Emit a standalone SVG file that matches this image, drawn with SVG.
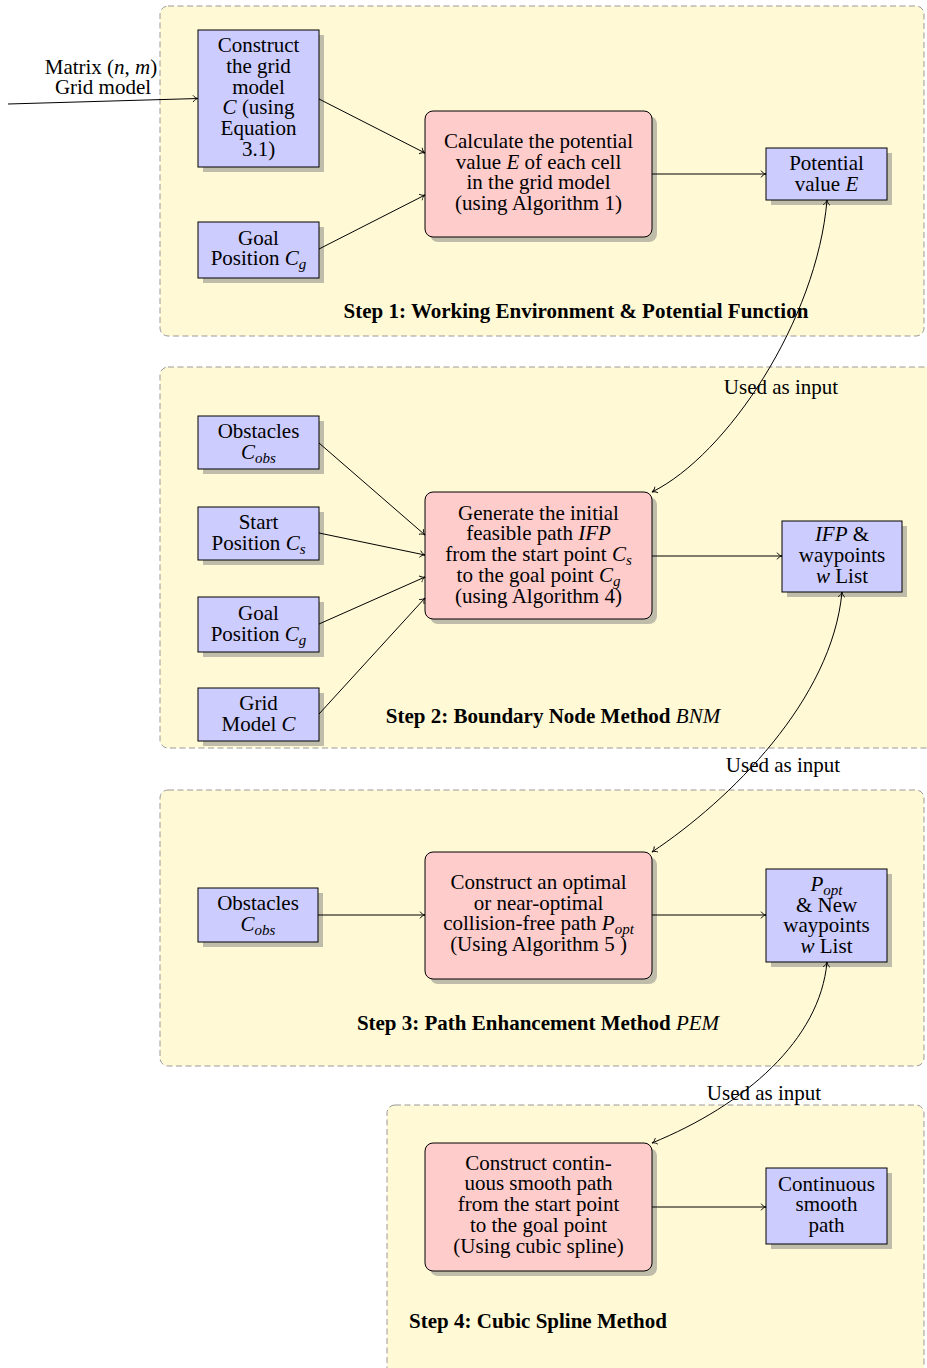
<svg xmlns="http://www.w3.org/2000/svg" width="927" height="1368" viewBox="0 0 927 1368">
<style>
text{font-family:"Liberation Serif","Times New Roman",serif;font-size:21px;fill:#000}
.c{text-anchor:middle}
.i{font-style:italic}
.s{font-size:15px;font-style:italic}
.b{font-weight:bold}
.panel{fill:#FFF9D5;stroke:#999;stroke-width:1;stroke-dasharray:6 3.5}
.blue{fill:#CCCCFF;stroke:#000;stroke-width:1}
.red{fill:#FFCCCC;stroke:#000;stroke-width:1}
.sh{fill:#808080;opacity:0.5}
.ln{fill:none;stroke:#000;stroke-width:1;marker-end:url(#arr)}
.cv{fill:none;stroke:#000;stroke-width:1;marker-end:url(#arr);marker-start:url(#arr)}
</style>
<defs>
<marker id="arr" markerUnits="userSpaceOnUse" viewBox="-7 -5 8 10" markerWidth="8" markerHeight="10" refX="0" refY="0" orient="auto-start-reverse" overflow="visible">
<path d="M-5,-3.4 C-3.8,-1.4 -1.6,-0.4 0,0 C-1.6,0.4 -3.8,1.4 -5,3.4" fill="none" stroke="#000" stroke-width="0.9"/>
</marker>
</defs>

<g id="panels">
<rect id="step1" class="panel" x="160" y="6" width="764" height="330" rx="8"/>
<rect id="step2" class="panel" x="160" y="367" width="775" height="381" rx="8"/>
<rect id="step3" class="panel" x="160" y="790" width="764" height="276" rx="8"/>
<rect id="step4" class="panel" x="387" y="1105" width="537" height="290" rx="8"/>
</g>

<g id="labels">
<text class="c b" x="576" y="318">Step 1: Working Environment &amp; Potential Function</text>
<text class="c" x="553" y="723"><tspan class="b">Step 2: Boundary Node Method </tspan><tspan class="i">BNM</tspan></text>
<text class="c" x="538" y="1030"><tspan class="b">Step 3: Path Enhancement Method </tspan><tspan class="i">PEM</tspan></text>
<text class="c b" x="538" y="1328">Step 4: Cubic Spline Method</text>
<text class="c" x="101" y="74">Matrix (<tspan class="i">n</tspan>, <tspan class="i">m</tspan>)</text>
<text class="c" x="103" y="94">Grid model</text>
<text class="c" x="781" y="394">Used as input</text>
<text class="c" x="783" y="772">Used as input</text>
<text class="c" x="764" y="1100">Used as input</text>
</g>

<g id="n_grid">
<rect class="sh" x="203" y="35" width="121" height="137"/>
<rect class="blue" x="198" y="30" width="121" height="137"/>
<text class="c" x="258.5" y="52.3">Construct</text>
<text class="c" x="258.5" y="73">the grid</text>
<text class="c" x="258.5" y="93.7">model</text>
<text class="c" x="258.5" y="114.4"><tspan class="i">C</tspan> (using</text>
<text class="c" x="258.5" y="135.1">Equation</text>
<text class="c" x="258.5" y="155.8">3.1)</text>
</g>

<g id="n_goal1">
<rect class="sh" x="203" y="227" width="121" height="56"/>
<rect class="blue" x="198" y="222" width="121" height="56"/>
<text class="c" x="258.5" y="244.5">Goal</text>
<text class="c" x="258.5" y="265.2">Position <tspan class="i">C</tspan><tspan class="s" dy="4">g</tspan></text>
</g>

<g id="n_calc">
<rect class="sh" x="430" y="116" width="227" height="126" rx="8"/>
<rect class="red" x="425" y="111" width="227" height="126" rx="8"/>
<text class="c" x="538.5" y="148">Calculate the potential</text>
<text class="c" x="538.5" y="168.7">value <tspan class="i">E</tspan> of each cell</text>
<text class="c" x="538.5" y="189.4">in the grid model</text>
<text class="c" x="538.5" y="210.1">(using Algorithm 1)</text>
</g>

<g id="n_pot">
<rect class="sh" x="771" y="153" width="121" height="52"/>
<rect class="blue" x="766" y="148" width="121" height="52"/>
<text class="c" x="826.5" y="170">Potential</text>
<text class="c" x="826.5" y="190.7">value <tspan class="i">E</tspan></text>
</g>

<g id="n_obs2">
<rect class="sh" x="203" y="421" width="121" height="53"/>
<rect class="blue" x="198" y="416" width="121" height="53"/>
<text class="c" x="258.5" y="437.5">Obstacles</text>
<text class="c" x="258.5" y="458.5"><tspan class="i">C</tspan><tspan class="s" dy="4">obs</tspan></text>
</g>

<g id="n_start">
<rect class="sh" x="203" y="512" width="121" height="53"/>
<rect class="blue" x="198" y="507" width="121" height="53"/>
<text class="c" x="258.5" y="528.8">Start</text>
<text class="c" x="258.5" y="549.5">Position <tspan class="i">C</tspan><tspan class="s" dy="4">s</tspan></text>
</g>

<g id="n_goal2">
<rect class="sh" x="203" y="602" width="121" height="55"/>
<rect class="blue" x="198" y="597" width="121" height="55"/>
<text class="c" x="258.5" y="619.8">Goal</text>
<text class="c" x="258.5" y="640.5">Position <tspan class="i">C</tspan><tspan class="s" dy="4">g</tspan></text>
</g>

<g id="n_gridm">
<rect class="sh" x="203" y="693" width="121" height="53"/>
<rect class="blue" x="198" y="688" width="121" height="53"/>
<text class="c" x="258.5" y="709.8">Grid</text>
<text class="c" x="258.5" y="730.5">Model <tspan class="i">C</tspan></text>
</g>

<g id="n_gen">
<rect class="sh" x="430" y="497" width="227" height="127" rx="8"/>
<rect class="red" x="425" y="492" width="227" height="127" rx="8"/>
<text class="c" x="538.5" y="519.5">Generate the initial</text>
<text class="c" x="538.5" y="540.3">feasible path <tspan class="i">IFP</tspan></text>
<text class="c" x="538.5" y="561.1">from the start point <tspan class="i">C</tspan><tspan class="s" dy="4">s</tspan></text>
<text class="c" x="538.5" y="581.9">to the goal point <tspan class="i">C</tspan><tspan class="s" dy="4">g</tspan></text>
<text class="c" x="538.5" y="602.7">(using Algorithm 4)</text>
</g>

<g id="n_ifp">
<rect class="sh" x="787" y="526" width="120" height="71"/>
<rect class="blue" x="782" y="521" width="120" height="71"/>
<text class="c" x="842" y="541.3"><tspan class="i">IFP</tspan> &amp;</text>
<text class="c" x="842" y="562">waypoints</text>
<text class="c" x="842" y="582.7"><tspan class="i">w</tspan> List</text>
</g>

<g id="n_obs3">
<rect class="sh" x="203" y="893" width="120" height="54"/>
<rect class="blue" x="198" y="888" width="120" height="54"/>
<text class="c" x="258" y="910.2">Obstacles</text>
<text class="c" x="258" y="930.9"><tspan class="i">C</tspan><tspan class="s" dy="4">obs</tspan></text>
</g>

<g id="n_opt">
<rect class="sh" x="430" y="857" width="227" height="127" rx="8"/>
<rect class="red" x="425" y="852" width="227" height="127" rx="8"/>
<text class="c" x="538.5" y="889">Construct an optimal</text>
<text class="c" x="538.5" y="909.7">or near-optimal</text>
<text class="c" x="538.5" y="930.4">collision-free path <tspan class="i">P</tspan><tspan class="s" dy="4">opt</tspan></text>
<text class="c" x="538.5" y="951.1">(Using Algorithm 5 )</text>
</g>

<g id="n_popt">
<rect class="sh" x="771" y="874" width="121" height="93"/>
<rect class="blue" x="766" y="869" width="121" height="93"/>
<text class="c" x="826.5" y="891"><tspan class="i">P</tspan><tspan class="s" dy="4">opt</tspan></text>
<text class="c" x="826.5" y="911.7">&amp; New</text>
<text class="c" x="826.5" y="932.4">waypoints</text>
<text class="c" x="826.5" y="953.1"><tspan class="i">w</tspan> List</text>
</g>

<g id="n_cubic">
<rect class="sh" x="430" y="1148" width="227" height="128" rx="8"/>
<rect class="red" x="425" y="1143" width="227" height="128" rx="8"/>
<text class="c" x="538.5" y="1169.5">Construct contin-</text>
<text class="c" x="538.5" y="1190.3">uous smooth path</text>
<text class="c" x="538.5" y="1211">from the start point</text>
<text class="c" x="538.5" y="1231.8">to the goal point</text>
<text class="c" x="538.5" y="1252.5">(Using cubic spline)</text>
</g>

<g id="n_cont">
<rect class="sh" x="771" y="1173" width="121" height="76"/>
<rect class="blue" x="766" y="1168" width="121" height="76"/>
<text class="c" x="826.5" y="1190.5">Continuous</text>
<text class="c" x="826.5" y="1211.2">smooth</text>
<text class="c" x="826.5" y="1231.9">path</text>
</g>

<g id="connectors">
<line class="ln" x1="8" y1="104" x2="198" y2="98.5"/>
<line class="ln" x1="319" y1="99" x2="425" y2="153"/>
<line class="ln" x1="319" y1="249" x2="425" y2="195"/>
<line class="ln" x1="652" y1="174" x2="766" y2="174"/>
<line class="ln" x1="319" y1="443" x2="425" y2="535"/>
<line class="ln" x1="319" y1="533" x2="425" y2="555"/>
<line class="ln" x1="319" y1="624" x2="425" y2="577"/>
<line class="ln" x1="319" y1="714" x2="425" y2="598"/>
<line class="ln" x1="652" y1="556" x2="782" y2="556"/>
<line class="ln" x1="318" y1="915" x2="425" y2="915"/>
<line class="ln" x1="652" y1="915" x2="766" y2="915"/>
<line class="ln" x1="652" y1="1207" x2="766" y2="1207"/>
<path class="cv" d="M827,200 C817,320 727,455 652,492"/>
<path class="cv" d="M842,592 C832,700 730,800 652,852"/>
<path class="cv" d="M827,962 C820,1040 745,1105 652,1143"/>
</g>
</svg>
